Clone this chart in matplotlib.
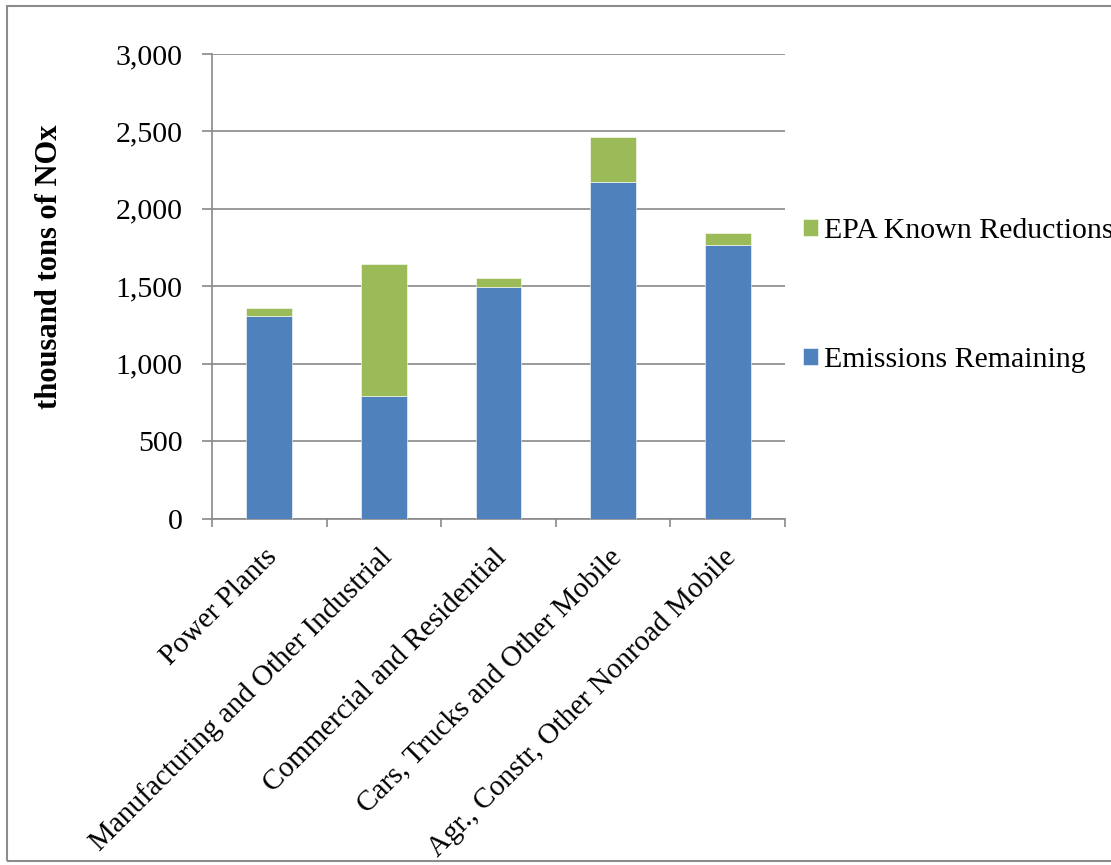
import matplotlib
matplotlib.use("Agg")
import matplotlib.pyplot as plt
from matplotlib.patches import Rectangle
from matplotlib.ticker import FuncFormatter

# values in thousand tons of NOx
categories = [
    "Power Plants",
    "Manufacturing and Other Industrial",
    "Commercial and Residential",
    "Cars, Trucks and Other Mobile",
    "Agr., Constr, Other Nonroad Mobile",
]
emissions_remaining = [1310, 792, 1497, 2174, 1765]
epa_known_reductions = [51, 853, 58, 292, 80]

BLUE = "#4F81BD"
GREEN = "#9BBB59"
GRID = "#898989"
FS = 21.5

plt.rcParams["font.family"] = ["Liberation Serif", "DejaVu Serif"]

fig = plt.figure(figsize=(11.11, 8.65), dpi=100)
ax = fig.add_axes([0.1908, 0.4004, 0.5158, 0.5373])

x = list(range(len(categories)))
b1 = ax.bar(x, emissions_remaining, width=0.4, color=BLUE, edgecolor="white",
            linewidth=0.4, label="Emissions Remaining", zorder=3)
b2 = ax.bar(x, epa_known_reductions, width=0.4, bottom=emissions_remaining,
            color=GREEN, edgecolor="white", linewidth=0.4,
            label="EPA Known Reductions", zorder=3)

ax.set_xlim(-0.5, len(categories) - 0.5)
ax.set_ylim(0, 3000)
ax.set_yticks(range(0, 3001, 500))
ax.yaxis.set_major_formatter(FuncFormatter(lambda v, p: f"{int(v):,}"))
ax.grid(axis="y", color=GRID, linewidth=1.2, zorder=0)

for s in ["top", "right"]:
    ax.spines[s].set_visible(False)
for s in ["left", "bottom"]:
    ax.spines[s].set_color(GRID)
    ax.spines[s].set_linewidth(1.2)

# category boundary ticks like Excel
ax.set_xticks([i - 0.5 for i in range(len(categories) + 1)])
ax.set_xticklabels([])
ax.tick_params(axis="x", length=6, color=GRID, width=1.2)
ax.tick_params(axis="y", length=7, color=GRID, width=1.2, labelsize=FS, pad=14)

for i, lab in enumerate(categories):
    ax.annotate(lab, xy=(i, 0), xycoords=("data", "axes fraction"),
                xytext=(3, -25), textcoords="offset points",
                rotation=45, ha="right", va="center", rotation_mode="anchor",
                fontsize=21)

ax.set_ylabel("thousand tons of NOx", fontsize=22, fontweight="bold")
ax.yaxis.set_label_coords(-0.258, 0.543)

leg = ax.legend(handles=[b2, b1], loc="upper left", bbox_to_anchor=(1.031, 0.647),
                frameon=False, fontsize=FS, handlelength=0.5, handleheight=0.5,
                handletextpad=0.2, labelspacing=3.45, borderaxespad=0, borderpad=0)

# outer chart border
fig.patches.append(Rectangle((7 / 1111, 4 / 865), 1.2, 1 - 10 / 865,
                             transform=fig.transFigure, fill=False,
                             edgecolor="#8c8c8c", linewidth=1.5))

fig.savefig("out.png", dpi=100)
